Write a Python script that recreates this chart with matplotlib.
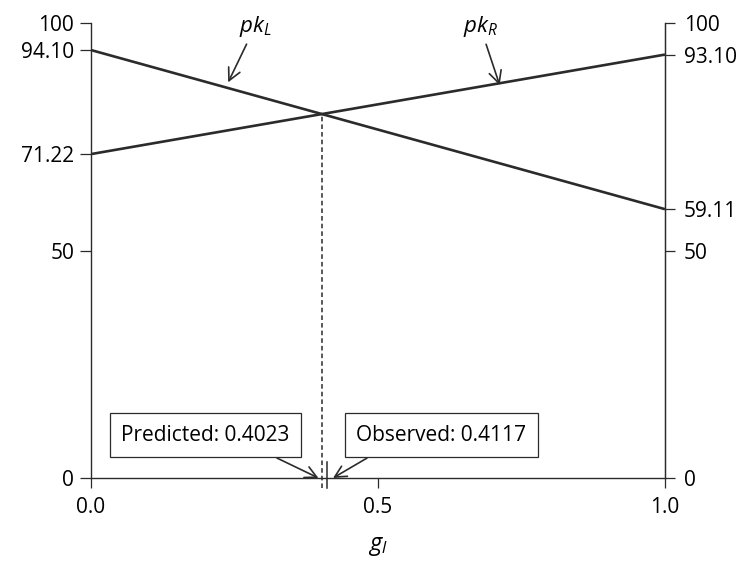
import matplotlib.pyplot as plt

plt.rcParams['font.family'] = ['Open Sans', 'DejaVu Sans']
plt.rcParams['mathtext.fontset'] = 'custom'
plt.rcParams['mathtext.rm'] = 'Open Sans'
plt.rcParams['mathtext.it'] = 'Open Sans:italic'

# data
g_x = [0.0, 1.0]
pk_left = [94.10, 59.11]
pk_right = [71.22, 93.10]
predicted = 0.4023
observed = 0.4117
left_ticks = [0, 50, 71.22, 94.10, 100]
left_labels = ['0', '50', '71.22', '94.10', '100']
right_ticks = [0, 50, 59.11, 93.10, 100]
right_labels = ['0', '50', '59.11', '93.10', '100']
x_ticks = [0.0, 0.5, 1.0]
x_labels = ['0.0', '0.5', '1.0']

ink = '#2b2b2b'
fs = 15

fig = plt.figure(figsize=(7.42, 5.66), dpi=100)
ax = fig.add_axes([0.1226, 0.1555, 0.7736, 0.8035])
ax.set_xlim(0, 1)
ax.set_ylim(0, 100)

ax.plot(g_x, pk_left, color=ink, lw=1.9, solid_capstyle='butt')
ax.plot(g_x, pk_right, color=ink, lw=1.9, solid_capstyle='butt')

# crossing point -> predicted share
y_cross = pk_left[0] + (pk_left[1] - pk_left[0]) * predicted
ax.plot([predicted, predicted], [-2.2, y_cross], color=ink, lw=1.1,
        ls=(0, (3, 2)), clip_on=False)
ax.plot([observed, observed], [-2.2, 3.5], color=ink, lw=1.1, clip_on=False)

ax.spines['top'].set_visible(False)
for side in ['left', 'right', 'bottom']:
    ax.spines[side].set_color(ink)
    ax.spines[side].set_linewidth(1.0)

ax.set_xticks(x_ticks)
ax.set_xticklabels(x_labels)
ax.tick_params(axis='x', direction='out', length=7.5, width=0.9, color=ink,
               labelsize=fs, pad=6)
ax.set_yticks(left_ticks)
ax.set_yticklabels(left_labels)
ax.tick_params(axis='y', direction='out', length=8, width=0.9, color=ink,
               labelsize=fs, pad=4)

ax2 = ax.twinx()
ax2.set_ylim(0, 100)
ax2.set_yticks(right_ticks)
ax2.set_yticklabels(right_labels)
ax2.tick_params(axis='y', direction='out', length=7.5, width=0.9, color=ink,
                labelsize=fs, pad=6)
for side in ['top', 'left', 'bottom']:
    ax2.spines[side].set_visible(False)
ax2.spines['right'].set_color(ink)

ax.set_xlabel('$g_l$', fontsize=fs + 2, labelpad=12)

arrow = dict(arrowstyle='->,head_length=0.55,head_width=0.28', color=ink,
             lw=1.2, shrinkA=2, shrinkB=0)
ax.annotate('$pk_L$', xy=(0.239, 87.0), xytext=(0.286, 99.3), fontsize=fs + 1,
            ha='center', va='center', arrowprops=arrow)
ax.annotate('$pk_R$', xy=(0.712, 86.4), xytext=(0.678, 99.3), fontsize=fs + 1,
            ha='center', va='center', arrowprops=arrow)

box = dict(boxstyle='square,pad=0.55', fc='white', ec=ink, lw=0.9)
ax.annotate('Predicted: 0.4023', xy=(predicted - 0.006, 0), xytext=(0.1995, 9.45),
            fontsize=fs, ha='center', va='center', bbox=box,
            arrowprops=dict(arrow, relpos=(0.77, 0), shrinkA=1))
ax.annotate('Observed: 0.4117', xy=(observed + 0.01, 0), xytext=(0.61, 9.45),
            fontsize=fs, ha='center', va='center', bbox=box,
            arrowprops=dict(arrow, relpos=(0.19, 0), shrinkA=1))

fig.savefig('out.png', dpi=100)
